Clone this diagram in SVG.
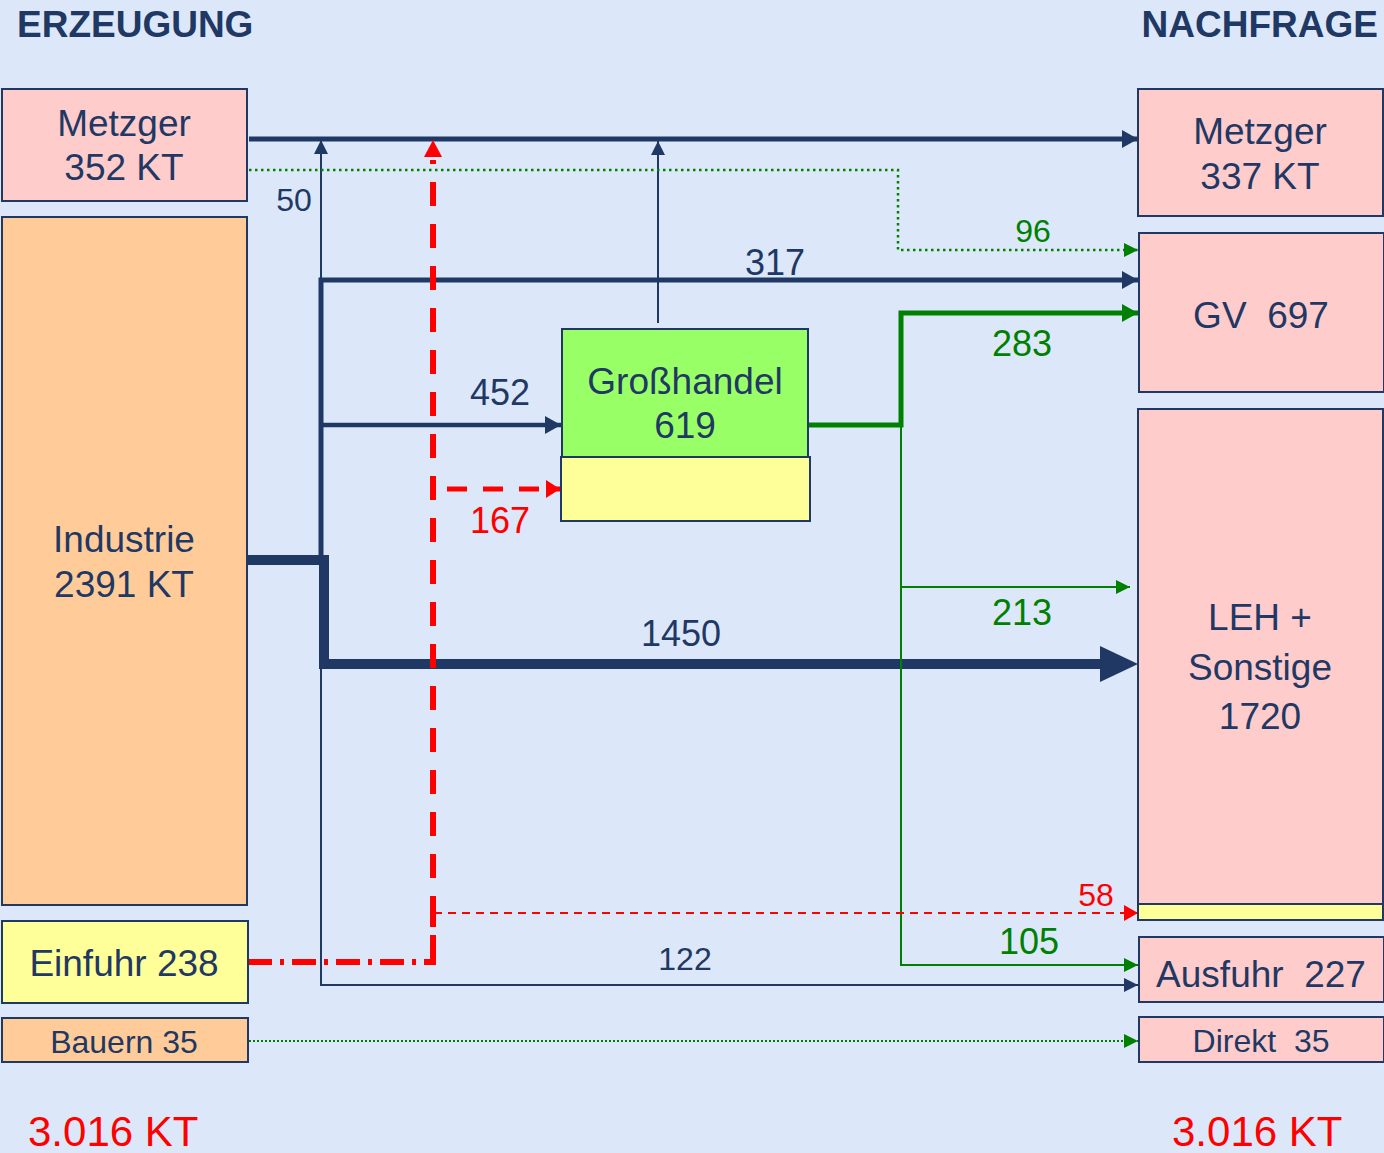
<svg xmlns="http://www.w3.org/2000/svg" width="1384" height="1153" viewBox="0 0 1384 1153">
<defs>
<style>
text{font-family:"Liberation Sans",Arial,sans-serif;white-space:pre;}
.hd{font-size:37px;font-weight:bold;fill:#1f3864;}
.nt{font-size:37px;fill:#1f3864;text-anchor:middle;}
.sm{font-size:32px;}
.box{stroke:#1f3864;stroke-width:2;}
.pink{fill:#ffcccc;}
.orange{fill:#ffcc99;}
.yellow{fill:#ffff99;}
.green{fill:#99ff66;}
.lb{font-size:36px;text-anchor:middle;}
.ls{font-size:32px;text-anchor:middle;}
.nv{fill:#1f3864;}
.gr{fill:#008000;}
.rd{fill:#ff0000;}
.tot{font-size:42px;fill:#ff0000;}
</style>
<marker id="an" viewBox="0 0 16 18" refX="16" refY="9" markerWidth="16" markerHeight="18" orient="auto" markerUnits="userSpaceOnUse"><path d="M0,0L16,9L0,18z" fill="#1f3864"/></marker>
<marker id="anT" viewBox="0 0 14 14" refX="14" refY="7" markerWidth="14" markerHeight="14" orient="auto" markerUnits="userSpaceOnUse"><path d="M0,0L14,7L0,14z" fill="#1f3864"/></marker>
<marker id="ag" viewBox="0 0 14 14" refX="14" refY="7" markerWidth="14" markerHeight="14" orient="auto" markerUnits="userSpaceOnUse"><path d="M0,0L14,7L0,14z" fill="#008000"/></marker>
<marker id="agB" viewBox="0 0 16 18" refX="16" refY="9" markerWidth="16" markerHeight="18" orient="auto" markerUnits="userSpaceOnUse"><path d="M0,0L16,9L0,18z" fill="#008000"/></marker>
<marker id="ar" viewBox="0 0 14 18" refX="14" refY="9" markerWidth="14" markerHeight="18" orient="auto" markerUnits="userSpaceOnUse"><path d="M0,0L14,9L0,18z" fill="#ff0000"/></marker>
<marker id="arT" viewBox="0 0 14 16" refX="14" refY="8" markerWidth="14" markerHeight="16" orient="auto" markerUnits="userSpaceOnUse"><path d="M0,0L14,8L0,16z" fill="#ff0000"/></marker>
</defs>
<rect x="0" y="0" width="1384" height="1153" fill="#dce8fa"/>
<text class="hd" x="17" y="37">ERZEUGUNG</text>
<text class="hd" x="1378" y="37" text-anchor="end">NACHFRAGE</text>

<g id="connectors" fill="none">
<!-- thin navy 50 / 122 -->
<polyline points="321,985 321,140" stroke="#1f3864" stroke-width="2" marker-end="url(#anT)"/>
<polyline points="320,985 1138,985" stroke="#1f3864" stroke-width="2" marker-end="url(#anT)"/>
<!-- Großhandel up arrow -->
<line x1="658" y1="323" x2="658" y2="141" stroke="#1f3864" stroke-width="2" marker-end="url(#anT)"/>
<!-- Metzger top -->
<line x1="249" y1="139" x2="1138" y2="139" stroke="#1f3864" stroke-width="5" marker-end="url(#an)"/>
<!-- green dotted 96 -->
<polyline points="249,170 898,170 898,250 1138,250" stroke="#008000" stroke-width="2.5" stroke-dasharray="2.5,3.5" marker-end="url(#ag)"/>
<!-- 317 -->
<polyline points="321,560 321,280 1138,280" stroke="#1f3864" stroke-width="5" marker-end="url(#an)"/>
<!-- 452 -->
<line x1="321" y1="425" x2="561" y2="425" stroke="#1f3864" stroke-width="4.5" marker-end="url(#an)"/>
<!-- Industrie main -->
<polyline points="247,560 324,560 324,664 1110,664" stroke="#1f3864" stroke-width="10"/>
<path d="M1100,646 L1138,664 L1100,682z" fill="#1f3864"/>
<!-- green 283 -->
<polyline points="808,425 901,425 901,313 1138,313" stroke="#008000" stroke-width="5" marker-end="url(#agB)"/>
<!-- green thin 213/105 -->
<polyline points="901,425 901,965 1138,965" stroke="#008000" stroke-width="2" marker-end="url(#ag)"/>
<line x1="901" y1="587" x2="1130" y2="587" stroke="#008000" stroke-width="2" marker-end="url(#ag)"/>
<!-- red big dashed vertical -->
<line x1="433" y1="962" x2="433" y2="160" stroke="#ff0000" stroke-width="6" stroke-dasharray="24,18"/>
<path d="M424,157 L433,140 L442,157z" fill="#ff0000"/>
<!-- red dash-dot from Einfuhr -->
<polyline points="248,962 433,962 433,912" stroke="#ff0000" stroke-width="6" stroke-dasharray="24,8,4,8"/>
<!-- red 167 -->
<line x1="447" y1="489" x2="560" y2="489" stroke="#ff0000" stroke-width="5" stroke-dasharray="20,16" marker-end="url(#ar)"/>
<!-- red 58 thin -->
<line x1="434" y1="913" x2="1138" y2="913" stroke="#ff0000" stroke-width="2" stroke-dasharray="8,6" marker-end="url(#arT)"/>
<!-- green dotted Bauern -->
<line x1="249" y1="1041" x2="1138" y2="1041" stroke="#008000" stroke-width="1.8" stroke-dasharray="2,2" marker-end="url(#ag)"/>
</g>

<g id="labels">
<text class="ls nv" x="294" y="211">50</text>
<text class="lb nv" x="775" y="275">317</text>
<text class="lb nv" x="500" y="405">452</text>
<text class="lb rd" x="500" y="533">167</text>
<text class="lb nv" x="681" y="646">1450</text>
<text class="ls gr" x="1033" y="242">96</text>
<text class="lb gr" x="1022" y="356">283</text>
<text class="lb gr" x="1022" y="625">213</text>
<text class="ls rd" x="1096" y="906">58</text>
<text class="lb gr" x="1029" y="954">105</text>
<text class="ls nv" x="685" y="970">122</text>
<text class="tot" x="28" y="1146">3.016 KT</text>
<text class="tot" x="1172" y="1146">3.016 KT</text>
</g>

<g id="metzger-l"><rect class="box pink" x="2" y="89" width="245" height="112"/><text class="nt" x="124" y="136">Metzger</text><text class="nt" x="124" y="180">352 KT</text></g>
<g id="industrie"><rect class="box orange" x="2" y="217" width="245" height="688"/><text class="nt" x="124" y="552">Industrie</text><text class="nt" x="124" y="597">2391 KT</text></g>
<g id="einfuhr"><rect class="box yellow" x="2" y="921" width="246" height="82"/><text class="nt" x="124" y="976">Einfuhr 238</text></g>
<g id="bauern"><rect class="box orange" x="2" y="1018" width="246" height="44"/><text class="nt sm" x="124" y="1053">Bauern 35</text></g>

<g id="grosshandel"><rect class="box green" x="562" y="329" width="246" height="128"/><rect class="box yellow" x="561" y="457" width="249" height="64"/><text class="nt" x="685" y="394">Großhandel</text><text class="nt" x="685" y="438">619</text></g>

<g id="metzger-r"><rect class="box pink" x="1138" y="89" width="245" height="127"/><text class="nt" x="1260" y="144">Metzger</text><text class="nt" x="1260" y="189">337 KT</text></g>
<g id="gv"><rect class="box pink" x="1139" y="233" width="245" height="159"/><text class="nt" x="1261" y="328">GV  697</text></g>
<g id="leh"><rect class="box pink" x="1138" y="409" width="245" height="495"/><rect class="box yellow" x="1138" y="904" width="245" height="16"/><text class="nt" x="1260" y="630">LEH +</text><text class="nt" x="1260" y="680">Sonstige</text><text class="nt" x="1260" y="729">1720</text></g>
<g id="ausfuhr"><rect class="box pink" x="1139" y="937" width="245" height="65"/><text class="nt" x="1261" y="987">Ausfuhr  227</text></g>
<g id="direkt"><rect class="box pink" x="1139" y="1017" width="245" height="45"/><text class="nt sm" x="1261" y="1052">Direkt  35</text></g>
</svg>
